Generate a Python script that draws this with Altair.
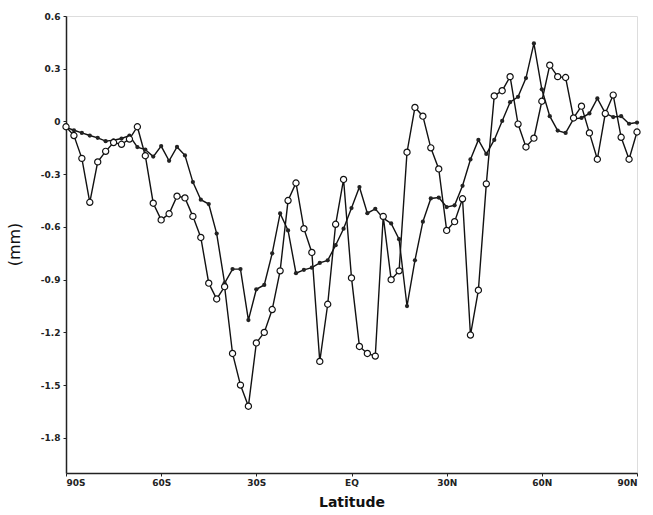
import altair as alt
import pandas as pd

lat = [-90, -87.5, -85, -82.5, -80, -77.5, -75, -72.5, -70, -67.5, -65, -62.5,
       -60, -57.5, -55, -52.5, -50, -47.5, -45, -42.5, -40, -37.5, -35, -32.5,
       -30, -27.5, -25, -22.5, -20, -17.5, -15, -12.5, -10, -7.5, -5, -2.5,
       0, 2.5, 5, 7.5, 10, 12.5, 15, 17.5, 20, 22.5, 25, 27.5,
       30, 32.5, 35, 37.5, 40, 42.5, 45, 47.5, 50, 52.5, 55, 57.5,
       60, 62.5, 65, 67.5, 70, 72.5, 75, 77.5, 80, 82.5, 85, 87.5, 90]

open_series = [-0.03, -0.08, -0.21, -0.46, -0.23, -0.17, -0.12, -0.13, -0.10, -0.03,
               -0.195, -0.465, -0.56, -0.525, -0.425, -0.435, -0.54, -0.66, -0.92, -1.01,
               -0.94, -1.32, -1.50, -1.62, -1.26, -1.20, -1.07, -0.85, -0.45, -0.35,
               -0.61, -0.745, -1.365, -1.04, -0.585, -0.33, -0.89, -1.28, -1.32, -1.335,
               -0.54, -0.90, -0.85, -0.175, 0.08, 0.03, -0.15, -0.27, -0.62, -0.57,
               -0.44, -1.215, -0.96, -0.355, 0.145, 0.175, 0.255, -0.015, -0.145, -0.095,
               0.115, 0.32, 0.255, 0.25, 0.02, 0.087, -0.065, -0.215, 0.045, 0.15,
               -0.09, -0.215, -0.06]

filled_series = [-0.034, -0.05, -0.065, -0.08, -0.093, -0.112, -0.107, -0.097, -0.08, -0.146,
                 -0.16, -0.20, -0.14, -0.224, -0.145, -0.193, -0.345, -0.445, -0.47, -0.638,
                 -0.92, -0.84, -0.84, -1.13, -0.955, -0.93, -0.75, -0.523, -0.62, -0.863,
                 -0.844, -0.832, -0.805, -0.79, -0.704, -0.61, -0.493, -0.373, -0.522, -0.497,
                 -0.55, -0.58, -0.67, -1.05, -0.79, -0.57, -0.438, -0.433, -0.487, -0.477,
                 -0.366, -0.216, -0.105, -0.185, -0.105, 0.003, 0.11, 0.14, 0.247, 0.444,
                 0.183, 0.03, -0.052, -0.065, 0.015, 0.02, 0.046, 0.131, 0.047, 0.025,
                 0.03, -0.013, -0.006]

x_ticks = [-90, -60, -30, 0, 30, 60, 90]
y_ticks = [-1.8, -1.5, -1.2, -0.9, -0.6, -0.3, 0, 0.3, 0.6]

df_open = pd.DataFrame({"lat": lat, "value": open_series})
df_filled = pd.DataFrame({"lat": lat, "value": filled_series})

FONT = "DejaVu Sans"

x_enc = alt.X(
    "lat:Q",
    scale=alt.Scale(domain=[-90, 90], nice=False, zero=False),
    axis=alt.Axis(
        values=x_ticks,
        labelExpr="datum.value == 0 ? 'EQ' : (datum.value < 0 ? abs(datum.value) + 'S' : datum.value + 'N')",
        title="Latitude",
        titleFont=FONT,
        titleFontSize=14,
        titleFontWeight="bold",
        titleColor="#111",
        titlePadding=8,
        labelFont=FONT,
        labelFontSize=9,
        labelFontWeight="bold",
        labelColor="#222",
        labelPadding=2,
        tickSize=3,
        tickColor="#222",
        domainColor="#222",
        domainWidth=1.5,
        grid=False,
    ),
)
y_enc = alt.Y(
    "value:Q",
    scale=alt.Scale(domain=[-2.0, 0.6], nice=False, zero=False),
    axis=alt.Axis(
        values=y_ticks,
        labelExpr="abs(datum.value) < 1e-9 ? '0' : (datum.value < 0 ? '-' : '') + format(abs(datum.value), '.1f')",
        title="(mm)",
        titleFont=FONT,
        titleFontSize=16,
        titleFontWeight="normal",
        titleColor="#111",
        titleX=-44,
        titleY=228,
        labelFont=FONT,
        labelFontSize=9,
        labelFontWeight="bold",
        labelColor="#222",
        labelPadding=3,
        tickSize=3,
        tickColor="#222",
        domainColor="#222",
        domainWidth=1.5,
        grid=False,
    ),
)

line_open = alt.Chart(df_open).mark_line(color="#111", strokeWidth=1.4).encode(x=x_enc, y=y_enc)
pts_open = alt.Chart(df_open).mark_point(
    shape="circle", filled=True, fill="white", stroke="#111", strokeWidth=1.2, size=38, opacity=1
).encode(x=x_enc, y=y_enc)

line_filled = alt.Chart(df_filled).mark_line(color="#111", strokeWidth=1.4).encode(x=x_enc, y=y_enc)
pts_filled = alt.Chart(df_filled).mark_point(
    shape="circle", filled=True, color="#222", size=18, opacity=1
).encode(x=x_enc, y=y_enc)

chart = (
    alt.layer(line_filled, line_open, pts_filled, pts_open)
    .properties(
        width=571,
        height=457,
        autosize=alt.AutoSizeParams(type="none"),
        padding={"left": 66, "top": 16, "right": 16, "bottom": 42},
    )
    .configure_view(stroke="#222", strokeWidth=1.5)
    .configure(background="white")
)

chart.save("out.html", embed_options={"renderer": "svg", "actions": False})
